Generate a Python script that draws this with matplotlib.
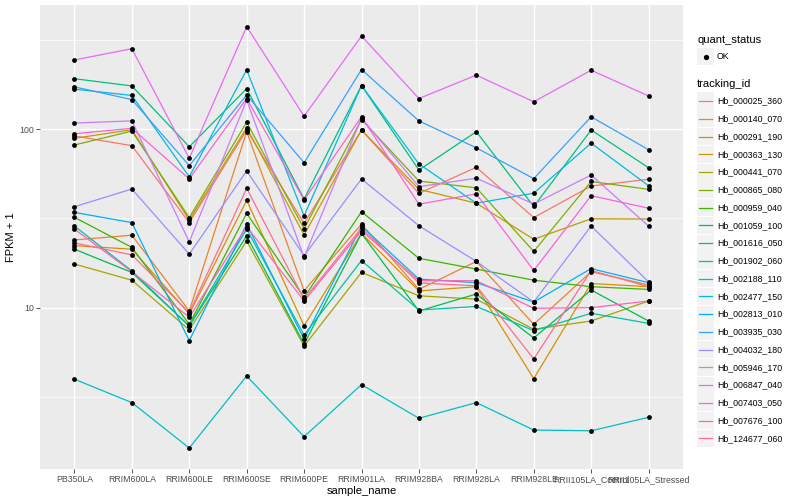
import matplotlib.pyplot as plt
from matplotlib.lines import Line2D
from matplotlib.patches import Rectangle
from matplotlib.ticker import NullFormatter

plt.rcParams['font.family'] = ['Liberation Sans', 'DejaVu Sans']

# muestras (eje x)
samples = ['PB350LA', 'RRIM600LA', 'RRIM600LE', 'RRIM600SE', 'RRIM600PE', 'RRIM901LA',
           'RRIM928BA', 'RRIM928LA', 'RRIM928LE', 'RRII105LA_Control', 'RRII105LA_Stressed']

# FPKM + 1 por gen
hb_000025_360 = [91.4, 80.7, 30.0, 98.7, 29.7, 98.7, 43.7, 61.1, 32.0, 48.0, 52.4]
hb_000140_070 = [24.0, 25.5, 9.62, 96.8, 12.5, 29.4, 12.7, 18.2, 8.11, 15.95, 13.45]
hb_000291_190 = [22.3, 21.3, 9.26, 39.9, 7.96, 26.1, 12.45, 13.15, 4.03, 13.7, 13.15]
hb_000363_130 = [88.7, 99.1, 31.0, 101.7, 25.6, 98.7, 46.0, 38.5, 24.2, 31.5, 31.4]
hb_000441_070 = [17.6, 14.3, 7.54, 23.7, 6.13, 15.8, 11.7, 11.2, 7.60, 8.46, 10.94]
hb_000865_080 = [81.4, 97.4, 32.0, 109, 27.7, 113, 51.2, 46.9, 20.7, 50.9, 46.0]
hb_000959_040 = [32.1, 21.8, 8.11, 33.8, 11.45, 34.5, 18.95, 16.5, 14.3, 13.15, 12.7]
hb_001059_100 = [21.3, 15.8, 7.93, 25.3, 6.29, 26.1, 9.62, 11.97, 6.80, 12.6, 8.46]
hb_001616_050 = [191, 174, 79.6, 168, 40.6, 175, 59.0, 96.6, 36.9, 98.7, 60.8]
hb_001902_060 = [28.7, 16.1, 7.93, 27.6, 7.07, 18.4, 9.74, 10.2, 7.47, 9.34, 8.21]
hb_002188_110 = [4.00, 2.96, 1.65, 4.17, 1.91, 3.73, 2.42, 2.96, 2.08, 2.06, 2.45]
hb_002477_150 = [167, 154, 54.1, 214, 32.7, 175, 63.8, 38.5, 43.8, 83.3, 48.2]
hb_002813_010 = [34.2, 30.0, 6.57, 29.4, 6.69, 28.7, 14.5, 13.85, 10.8, 16.6, 13.85]
hb_003935_030 = [172, 146, 62.4, 155, 64.8, 215, 111, 78.5, 52.8, 117, 76.6]
hb_004032_180 = [36.8, 46.2, 20.0, 58.3, 19.6, 52.6, 28.8, 18.2, 10.8, 28.7, 14.0]
hb_005946_170 = [108, 111, 23.4, 145, 19.2, 115, 47.6, 53.1, 38.1, 55.3, 28.7]
hb_006847_040 = [243, 281, 68.6, 373, 118, 331, 148, 200, 142, 213, 153]
hb_007403_050 = [94.1, 100.9, 52.6, 148, 40.1, 117, 38.0, 43.4, 16.2, 42.4, 36.1]
hb_007676_100 = [27.6, 15.95, 8.87, 28.5, 10.94, 27.0, 14.2, 14.2, 9.96, 10.04, 10.94]
hb_124677_060 = [23.1, 19.8, 9.41, 46.6, 11.2, 27.9, 13.8, 13.3, 5.19, 16.2, 13.15]

tracking_ids = ['Hb_000025_360', 'Hb_000140_070', 'Hb_000291_190', 'Hb_000363_130',
                'Hb_000441_070', 'Hb_000865_080', 'Hb_000959_040', 'Hb_001059_100',
                'Hb_001616_050', 'Hb_001902_060', 'Hb_002188_110', 'Hb_002477_150',
                'Hb_002813_010', 'Hb_003935_030', 'Hb_004032_180', 'Hb_005946_170',
                'Hb_006847_040', 'Hb_007403_050', 'Hb_007676_100', 'Hb_124677_060']
series = [hb_000025_360, hb_000140_070, hb_000291_190, hb_000363_130, hb_000441_070,
          hb_000865_080, hb_000959_040, hb_001059_100, hb_001616_050, hb_001902_060,
          hb_002188_110, hb_002477_150, hb_002813_010, hb_003935_030, hb_004032_180,
          hb_005946_170, hb_006847_040, hb_007403_050, hb_007676_100, hb_124677_060]

# paleta por defecto de ggplot (hue) para 20 niveles
colores = ['#F8766D', '#EA8331', '#D89000', '#C09B00', '#A3A500', '#7CAE00', '#39B600',
           '#00BB4E', '#00BF7D', '#00C1A3', '#00BFC4', '#00BAE0', '#00B0F6', '#35A2FF',
           '#9590FF', '#C77CFF', '#E76BF3', '#FA62DB', '#FF62BC', '#FF6C91']

fig = plt.figure(figsize=(8, 5), dpi=100)
ax = fig.add_axes([40 / 800, 1 - 469 / 500, 643 / 800, 464 / 500])
ax.set_facecolor('#EBEBEB')

x = list(range(len(samples)))
for vals, col in zip(series, colores):
    ax.plot(x, vals, color=col, lw=0.9, zorder=2)
for vals in series:
    ax.scatter(x, vals, color='black', s=12, zorder=3, linewidths=0)

ax.set_yscale('log')
ax.set_ylim(1.26, 493)
ax.set_xlim(-0.6, len(samples) - 0.4)
ax.set_xticks(x)
ax.set_xticklabels(samples)
ax.set_yticks([10, 100])
ax.set_yticklabels(['10', '100'])
ax.set_yticks([10 ** 0.5, 10 ** 1.5, 10 ** 2.5], minor=True)
ax.yaxis.set_minor_formatter(NullFormatter())
ax.tick_params(which='major', length=3, width=0.6, color='#333333',
               labelcolor='#4D4D4D', labelsize=6.3, pad=1.5)
ax.tick_params(which='minor', length=0)
ax.grid(which='major', color='white', lw=1.0, zorder=0)
ax.grid(which='minor', axis='y', color='white', lw=0.5, zorder=0)
ax.set_axisbelow(True)
for s in ax.spines.values():
    s.set_visible(False)

ax.set_xlabel('sample_name', fontsize=8, labelpad=1)
ax.set_ylabel('FPKM + 1', fontsize=8, labelpad=2)

# leyendas dibujadas a mano (estilo ggplot)
def fx(px):
    return px / 800

def fy(py):
    return 1 - py / 500

fig.text(fx(697), fy(40), 'quant_status', fontsize=8, va='center')
fig.patches.append(Rectangle((fx(697), fy(65)), 17 / 800, 17 / 500, transform=fig.transFigure,
                             facecolor='#F2F2F2', edgecolor='none'))
fig.lines.append(Line2D([fx(705.5)], [fy(56.5)], marker='o', color='black', markersize=2.8,
                        transform=fig.transFigure))
fig.text(fx(717), fy(56.5), 'OK', fontsize=6.3, va='center')

fig.text(fx(697), fy(84), 'tracking_id', fontsize=8, va='center')
for i, (tid, col) in enumerate(zip(tracking_ids, colores)):
    yc = 101 + i * 17.75
    fig.patches.append(Rectangle((fx(697), fy(yc + 8.5)), 17 / 800, 17 / 500,
                                 transform=fig.transFigure, facecolor='#F2F2F2', edgecolor='none'))
    fig.lines.append(Line2D([fx(699), fx(712)], [fy(yc), fy(yc)], color=col, lw=0.9,
                            transform=fig.transFigure))
    fig.text(fx(717), fy(yc), tid, fontsize=6.3, va='center')

plt.savefig('out.png', dpi=100)
plt.close()
